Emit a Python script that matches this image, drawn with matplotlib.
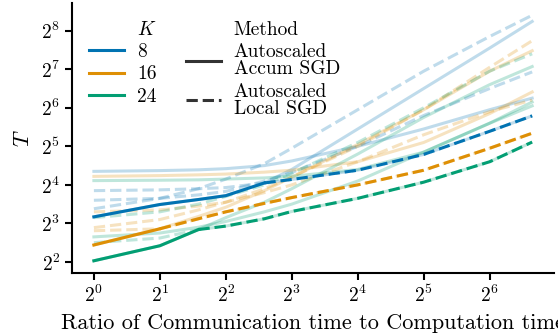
import numpy as np
import matplotlib
matplotlib.use("Agg")
import matplotlib.pyplot as plt
from matplotlib.lines import Line2D
from matplotlib.ticker import LogLocator

plt.rcParams["font.family"] = "serif"
plt.rcParams["font.serif"] = ["cmr10"]
plt.rcParams["mathtext.fontset"] = "cm"
plt.rcParams["axes.formatter.use_mathtext"] = True

# ratio of communication time to computation time
ratio = np.array([1, 2, 3, 4, 6, 8, 16, 32, 64, 100])

ks = [8, 16, 24]
colors = ["#0173b2", "#de8f05", "#029e73"]

# log2 of T for every run, per K and method
accum_log2_t = {
    8: [
        [3.17, 3.49, 3.62, 3.72, 4.05, 4.40, 5.45, 6.50, 7.55, 8.24],
        [4.35, 4.37, 4.39, 4.42, 4.50, 4.62, 5.00, 5.45, 5.95, 6.25],
    ],
    16: [
        [2.44, 2.86, 3.18, 3.42, 3.85, 4.20, 5.05, 5.95, 6.95, 7.48],
        [4.22, 4.24, 4.26, 4.28, 4.33, 4.38, 4.60, 5.10, 5.85, 6.41],
    ],
    24: [
        [2.03, 2.42, 2.84, 3.15, 3.55, 3.90, 4.80, 5.75, 6.60, 7.07],
        [4.11, 4.12, 4.13, 4.15, 4.18, 4.22, 4.40, 4.85, 5.60, 6.15],
        [2.65, 2.75, 2.90, 3.05, 3.30, 3.50, 4.10, 4.85, 5.60, 6.05],
    ],
}
local_log2_t = {
    8: [
        [3.85, 3.87, 3.90, 3.93, 4.05, 4.14, 4.38, 4.79, 5.39, 5.79],
        [3.38, 3.65, 3.90, 4.15, 4.55, 4.95, 5.95, 6.95, 7.85, 8.40],
        [3.60, 3.65, 3.74, 3.83, 4.10, 4.32, 5.00, 5.80, 6.50, 6.93],
    ],
    16: [
        [2.81, 2.86, 3.12, 3.30, 3.52, 3.67, 4.00, 4.38, 4.95, 5.34],
        [2.89, 3.10, 3.35, 3.55, 3.90, 4.20, 5.00, 5.95, 7.05, 7.74],
        [3.30, 3.35, 3.45, 3.55, 3.80, 4.00, 4.60, 5.30, 5.90, 6.20],
    ],
    24: [
        [2.50, 2.62, 2.84, 2.93, 3.12, 3.31, 3.65, 4.07, 4.60, 5.11],
        [3.15, 3.30, 3.50, 3.70, 4.00, 4.30, 5.10, 6.00, 6.95, 7.40],
    ],
}

fig = plt.figure(figsize=(5.58, 3.33), dpi=100)
ax = fig.add_axes([0.129, 0.180, 0.864, 0.811])

lw = 2.2
for k, c in zip(ks, colors):
    for run in accum_log2_t[k]:
        ax.plot(ratio, 2.0 ** np.array(run), color=c, lw=lw, alpha=0.25, ls="-")
    for run in local_log2_t[k]:
        ax.plot(ratio, 2.0 ** np.array(run), color=c, lw=lw, alpha=0.25, ls="--")

# best run per K: solid while Accum SGD is faster, dashed once Local SGD wins
for k, c in zip(ks, colors):
    acc = 2.0 ** np.array(accum_log2_t[k][0])
    loc = 2.0 ** np.array(local_log2_t[k][0])
    s = int(np.argmax(loc <= acc))
    ax.plot(ratio[:s + 1], acc[:s + 1], color=c, lw=lw, ls="-")
    ax.plot(ratio[s:], loc[s:], color=c, lw=lw, ls="--")

ax.set_xscale("log", base=2)
ax.set_yscale("log", base=2)
ax.xaxis.set_major_locator(LogLocator(base=2, numticks=20))
ax.yaxis.set_major_locator(LogLocator(base=2, numticks=20))
ax.margins(0.05)
ax.minorticks_off()

for side in ["top", "right"]:
    ax.spines[side].set_visible(False)
for side in ["left", "bottom"]:
    ax.spines[side].set_linewidth(1.5)
ax.tick_params(width=1.5, length=5, labelsize=14)

ax.set_xlabel("Ratio of Communication time to Computation time", fontsize=16,
              labelpad=5)
ax.set_ylabel("$T$", fontsize=16, labelpad=6)

blank = Line2D([], [], visible=False)
handles = [blank] + [Line2D([], [], color=c, lw=lw) for c in colors]
labels = ["$K$"] + [str(k) for k in ks]
handles += [blank,
            Line2D([], [], color="#333333", lw=lw, ls="-"),
            Line2D([], [], color="#333333", lw=lw, ls="--")]
labels += ["Method", "Autoscaled\nAccum SGD", "Autoscaled\nLocal SGD"]
leg = ax.legend(handles, labels, ncol=2, loc="upper left", frameon=False,
                fontsize=14, labelspacing=0.22, handlelength=1.8,
                handletextpad=0.65, columnspacing=1.5,
                bbox_to_anchor=(0.0, 0.998))
for t in leg.get_texts():
    t.set_linespacing(0.95)

fig.savefig("out.png", dpi=100)
